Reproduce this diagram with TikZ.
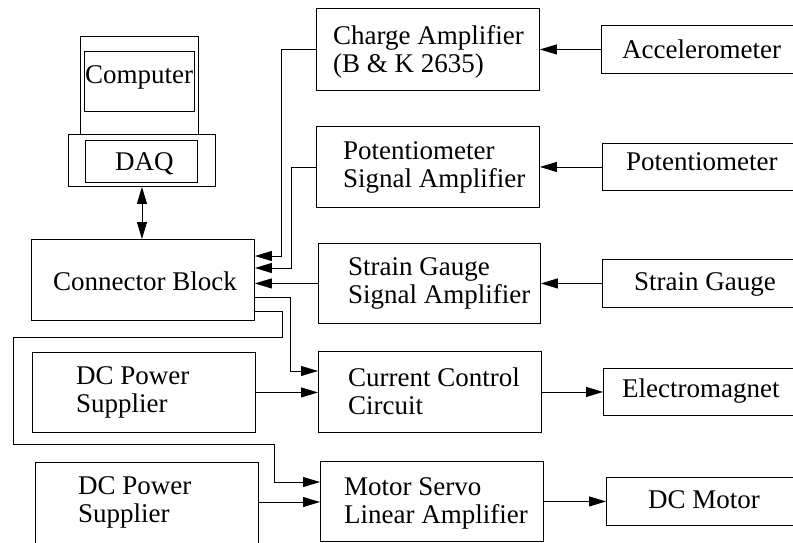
\documentclass[tikz,border=0pt]{standalone}
\usepackage{fontspec}
\setmainfont{Liberation Serif}
\usetikzlibrary{arrows.meta}
\begin{document}
\begin{tikzpicture}[x=1pt,y=-1pt,
  box/.style={draw, line width=0.9pt, inner sep=0pt, anchor=north west},
  lbl/.style={inner sep=0pt, anchor=base west, font=\fontsize{27}{28}\selectfont, align=left},
  arr/.style={line width=0.9pt, -{Triangle[length=17pt,width=10pt]}},
  dbl/.style={line width=0.9pt, {Triangle[length=17pt,width=10pt]}-{Triangle[length=17pt,width=10pt]}}]
\useasboundingbox (0,0) rectangle (793,542);
\clip (0,0) rectangle (793,542);
% boxes
\node[box, minimum width=118pt, minimum height=98pt] (compo) at (80,36) {};
\node[box, minimum width=110pt, minimum height=60pt] (compi) at (84,51) {};
\node[box, minimum width=147pt, minimum height=52pt] (daqo) at (68,134) {};
\node[box, minimum width=112pt, minimum height=42pt] (daqi) at (85,140) {};
\node[box, minimum width=223pt, minimum height=81pt] (cb) at (31,239) {};
\node[box, minimum width=223pt, minimum height=82pt] (ca) at (316,8) {};
\node[box, minimum width=223pt, minimum height=81pt] (psa) at (316,126) {};
\node[box, minimum width=222pt, minimum height=80pt] (ssa) at (318,243) {};
\node[box, minimum width=223pt, minimum height=81pt] (cc) at (318,351) {};
\node[box, minimum width=223pt, minimum height=80pt] (ms) at (320,461) {};
\node[box, minimum width=223pt, minimum height=80pt] (dcp1) at (32,352) {};
\node[box, minimum width=223pt, minimum height=82pt] (dcp2) at (35,462) {};
\node[box, minimum width=210pt, minimum height=48pt] (acc) at (601,25) {};
\node[box, minimum width=210pt, minimum height=47pt] (pot) at (602,143) {};
\node[box, minimum width=210pt, minimum height=48pt] (sg) at (602,259) {};
\node[box, minimum width=210pt, minimum height=47pt] (em) at (603,368) {};
\node[box, minimum width=210pt, minimum height=48pt] (dcm) at (606,477) {};
% labels (multi-line: anchor at baseline of last line)
\node[lbl] (compt) at (85,83) {Computer};
\node[lbl] (daqt) at (115,170) {DAQ};
\node[lbl] (cbt) at (53,290) {Connector Block};
\node[lbl] (cat) at (333,72) {Charge Amplifier\\(B \& K 2635)};
\node[lbl] (psat) at (343,187) {Potentiometer\\Signal Amplifier};
\node[lbl] (ssat) at (348,303) {Strain Gauge\\Signal Amplifier};
\node[lbl] (cct) at (348,414) {Current Control\\Circuit};
\node[lbl] (mst) at (344,523) {Motor Servo\\Linear Amplifier};
\node[lbl] (dcp1t) at (76,412) {DC Power\\Supplier};
\node[lbl] (dcp2t) at (78,522) {DC Power\\Supplier};
\node[lbl] (acct) at (622,58) {Accelerometer};
\node[lbl] (pott) at (626,170) {Potentiometer};
\node[lbl] (sgt) at (634,290) {Strain Gauge};
\node[lbl] (emt) at (622,397) {Electromagnet};
\node[lbl] (dcmt) at (648,508) {DC Motor};
% connectors
\draw[dbl] (daqo.south) -- (daqo.south |- cb.north);
\draw[arr] (acc.west) -- (acc.west -| ca.east);
\draw[arr] (pot.west) -- (pot.west -| psa.east);
\draw[arr] (sg.west) -- (sg.west -| ssa.east);
\draw[arr] (ca.west) -| (281,256) -- (cb.east |- 0,256);
\draw[arr] (psa.west) -| (291,268) -- (cb.east |- 0,268);
\draw[arr] (ssa.west) -- (ssa.west -| cb.east);
\draw[arr] (cb.east |- 0,297) -| (290,371) -- (cc.west |- 0,371);
\draw[arr] (cb.east |- 0,311) -| (282,337) -| (13,444) -| (274,482) -- (ms.west |- 0,482);
\draw[arr] (dcp1.east) -- (dcp1.east -| cc.west);
\draw[arr] (dcp2.east |- 0,502) -- (ms.west |- 0,502);
\draw[arr] (cc.east) -- (cc.east -| em.west);
\draw[arr] (ms.east) -- (ms.east -| dcm.west);
\end{tikzpicture}
\end{document}
